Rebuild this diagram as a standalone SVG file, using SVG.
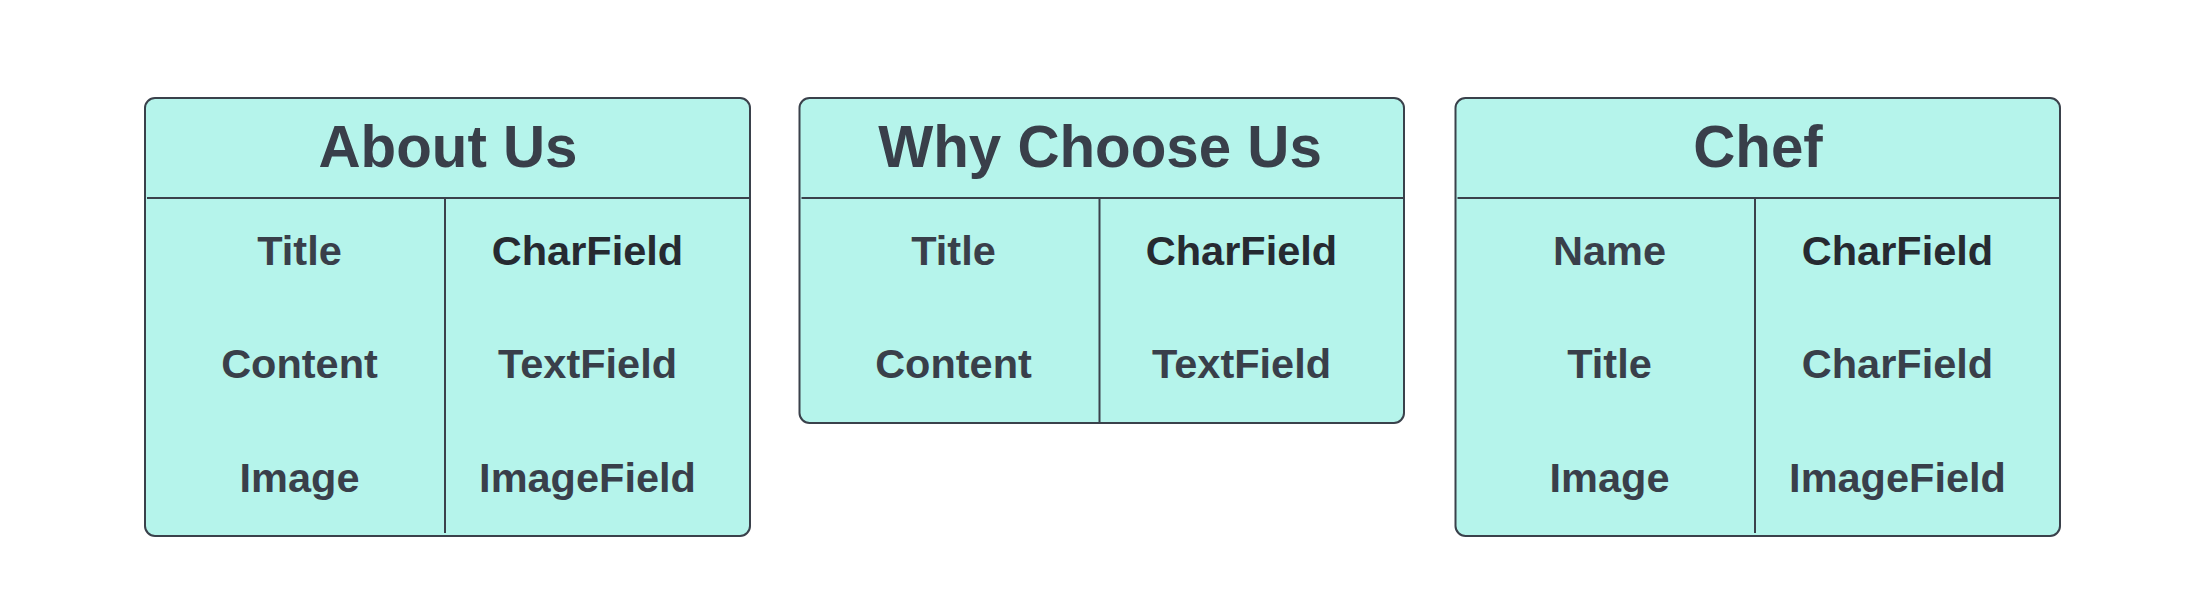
<svg xmlns="http://www.w3.org/2000/svg" width="2198" height="611" viewBox="0 0 2198 611">
<style>
.box{fill:#b5f4eb;stroke:#3a414b;stroke-width:2}
.ln{stroke:#3a414b;stroke-width:2;fill:none}
text{font-family:"Liberation Sans",Arial,sans-serif;font-weight:bold;fill:#393f4a;text-anchor:middle}
.hd{font-size:58.3px}
.f{font-size:41.5px}
.dk{fill:#262a31}
</style>
<rect width="2198" height="611" fill="#ffffff"/>
<g id="about-us">
<rect class="box" x="145" y="98" width="605" height="438" rx="10"/>
<line class="ln" x1="147" y1="198" x2="750" y2="198"/>
<line class="ln" x1="445" y1="198" x2="445" y2="533"/>
<text class="hd" x="448" y="167">About Us</text>
<text class="f" x="299.5" y="264.5">Title</text>
<text class="f dk" x="587.5" y="264.5">CharField</text>
<text class="f" x="299.5" y="378">Content</text>
<text class="f" x="587.5" y="378">TextField</text>
<text class="f" x="299.5" y="491.5">Image</text>
<text class="f" x="587.5" y="491.5">ImageField</text>
</g>
<g id="why-choose-us">
<rect class="box" x="799.5" y="98" width="604.5" height="325" rx="10"/>
<line class="ln" x1="801.5" y1="198" x2="1404" y2="198"/>
<line class="ln" x1="1099.5" y1="198" x2="1099.5" y2="423"/>
<text class="hd" x="1100" y="167">Why Choose Us</text>
<text class="f" x="953.5" y="264.5">Title</text>
<text class="f dk" x="1241.5" y="264.5">CharField</text>
<text class="f" x="953.5" y="378">Content</text>
<text class="f" x="1241.5" y="378">TextField</text>
</g>
<g id="chef">
<rect class="box" x="1455.5" y="98" width="604.5" height="438" rx="10"/>
<line class="ln" x1="1457.5" y1="198" x2="2060" y2="198"/>
<line class="ln" x1="1755" y1="198" x2="1755" y2="533"/>
<text class="hd" x="1758" y="167">Chef</text>
<text class="f" x="1609.5" y="264.5">Name</text>
<text class="f dk" x="1897.5" y="264.5">CharField</text>
<text class="f" x="1609.5" y="378">Title</text>
<text class="f" x="1897.5" y="378">CharField</text>
<text class="f" x="1609.5" y="491.5">Image</text>
<text class="f" x="1897.5" y="491.5">ImageField</text>
</g>
<g id="connectors"></g>
</svg>
